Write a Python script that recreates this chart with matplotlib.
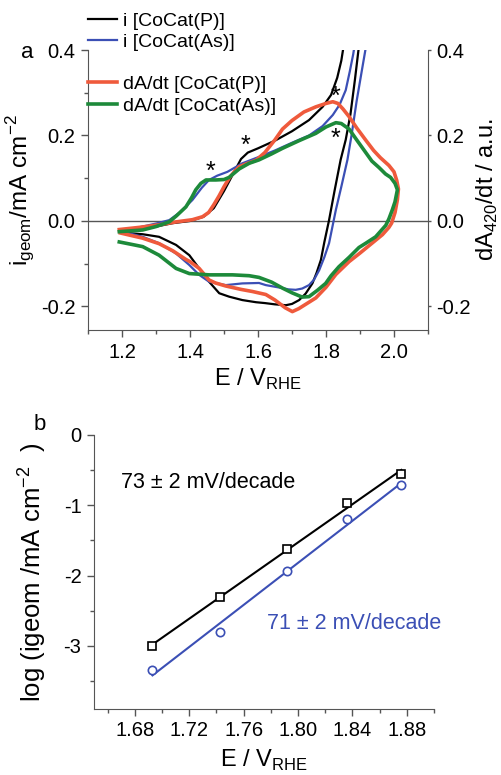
import numpy as np
import matplotlib
matplotlib.use("Agg")
import matplotlib.pyplot as plt
from matplotlib.ticker import MultipleLocator, FormatStrFormatter

plt.rcParams["font.family"] = ["Liberation Sans", "DejaVu Sans"]
plt.rcParams["mathtext.fontset"] = "custom"
plt.rcParams["mathtext.rm"] = "Liberation Sans"
plt.rcParams["axes.unicode_minus"] = False

# ---- panel a: CV currents ----
e_i_p = [1.195, 1.25, 1.30, 1.35, 1.40, 1.44, 1.47, 1.50, 1.53, 1.55, 1.57, 1.60,
         1.65, 1.70, 1.75, 1.79, 1.815, 1.833, 1.845, 1.852,
         1.897, 1.885, 1.872, 1.858, 1.843, 1.825, 1.809, 1.795, 1.785, 1.772, 1.760,
         1.74, 1.721, 1.70, 1.682, 1.65, 1.62, 1.594, 1.554, 1.515, 1.486, 1.456,
         1.427, 1.398, 1.359, 1.309, 1.261, 1.23, 1.20]
i_p = [-0.025, -0.022, -0.013, -0.005, 0.000, 0.010, 0.030, 0.070, 0.115, 0.145, 0.160, 0.170,
       0.188, 0.210, 0.236, 0.267, 0.295, 0.335, 0.375, 0.41,
       0.41, 0.33, 0.25, 0.19, 0.143, 0.07, 0.002, -0.05, -0.091, -0.122, -0.146,
       -0.170, -0.185, -0.194, -0.197, -0.195, -0.192, -0.190, -0.185, -0.177, -0.169, -0.142,
       -0.111, -0.080, -0.056, -0.037, -0.031, -0.029, -0.027]

e_i_as = [1.195, 1.25, 1.30, 1.339, 1.37, 1.407, 1.435, 1.456, 1.48, 1.51, 1.554, 1.603,
          1.65, 1.70, 1.75, 1.79, 1.82, 1.84, 1.858, 1.870, 1.880, 1.884,
          1.918, 1.905, 1.89, 1.875, 1.863, 1.845, 1.829, 1.809, 1.795, 1.780, 1.765,
          1.750, 1.730, 1.711, 1.690, 1.672, 1.623, 1.603, 1.554, 1.505, 1.456, 1.427,
          1.398, 1.359, 1.309, 1.261, 1.222, 1.195]
i_as = [-0.022, -0.015, -0.006, 0.002, 0.020, 0.049, 0.078, 0.096, 0.106, 0.115, 0.135, 0.150,
        0.165, 0.183, 0.200, 0.222, 0.248, 0.272, 0.306, 0.35, 0.39, 0.41,
        0.41, 0.35, 0.28, 0.20, 0.143, 0.08, 0.026, -0.052, -0.085, -0.115, -0.137,
        -0.150, -0.158, -0.161, -0.160, -0.157, -0.150, -0.145, -0.146, -0.150, -0.142, -0.126,
        -0.103, -0.076, -0.052, -0.037, -0.029, -0.022]

# ---- panel a: dA/dt loops ----
e_a_p = [1.192, 1.25, 1.309, 1.36, 1.407, 1.437, 1.455, 1.470, 1.485, 1.50, 1.515, 1.53,
         1.545, 1.57, 1.594, 1.62, 1.65, 1.672, 1.70, 1.735, 1.770, 1.80, 1.82, 1.835,
         1.85, 1.868, 1.89, 1.917, 1.94, 1.96, 1.985, 2.0, 2.008, 2.013, 2.01, 2.003,
         1.993, 1.985, 1.966, 1.946, 1.90, 1.868, 1.829, 1.80, 1.770, 1.74, 1.72, 1.701,
         1.68, 1.65, 1.623, 1.584, 1.55, 1.505, 1.475, 1.456, 1.427, 1.40, 1.388, 1.35,
         1.309, 1.26, 1.222, 1.195]
a_p = [-0.020, -0.015, -0.009, -0.002, 0.003, 0.010, 0.020, 0.038, 0.058, 0.080, 0.100, 0.115,
       0.127, 0.135, 0.142, 0.160, 0.190, 0.215, 0.235, 0.255, 0.267, 0.275, 0.279, 0.275,
       0.262, 0.244, 0.218, 0.189, 0.165, 0.148, 0.130, 0.115, 0.095, 0.075, 0.050, 0.020,
       -0.005, -0.015, -0.032, -0.045, -0.075, -0.095, -0.125, -0.155, -0.180, -0.195, -0.205, -0.212,
       -0.203, -0.185, -0.172, -0.165, -0.160, -0.152, -0.145, -0.138, -0.111, -0.095, -0.090, -0.070,
       -0.053, -0.040, -0.033, -0.028]

e_a_as = [1.192, 1.261, 1.30, 1.339, 1.36, 1.388, 1.405, 1.417, 1.432, 1.447, 1.476, 1.50,
          1.515, 1.530, 1.545, 1.574, 1.603, 1.64, 1.672, 1.721, 1.770, 1.80, 1.829, 1.845,
          1.868, 1.89, 1.917, 1.935, 1.956, 1.975, 1.99, 2.003, 2.010, 2.003, 1.995, 1.985,
          1.976, 1.946, 1.917, 1.897, 1.868, 1.838, 1.815, 1.799, 1.775, 1.750, 1.730, 1.70,
          1.672, 1.64, 1.603, 1.574, 1.525, 1.456, 1.398, 1.359, 1.309, 1.261, 1.23, 1.192]
a_as = [-0.025, -0.021, -0.013, -0.002, 0.012, 0.033, 0.055, 0.073, 0.088, 0.096, 0.096, 0.097,
        0.102, 0.112, 0.122, 0.135, 0.143, 0.157, 0.170, 0.188, 0.205, 0.220, 0.230, 0.228,
        0.215, 0.190, 0.160, 0.140, 0.125, 0.110, 0.102, 0.088, 0.073, 0.045, 0.026, 0.005,
        -0.010, -0.037, -0.052, -0.062, -0.085, -0.107, -0.128, -0.146, -0.162, -0.177, -0.178, -0.168,
        -0.157, -0.143, -0.132, -0.128, -0.126, -0.126, -0.123, -0.111, -0.080, -0.060, -0.055, -0.049]

star_e = [1.46, 1.563, 1.827, 1.827]
star_y = [0.131, 0.192, 0.306, 0.208]

# ---- panel b: Tafel points ----
e_tafel = [1.693, 1.743, 1.792, 1.836, 1.876]
log_i_p = [-3.00, -2.31, -1.62, -0.97, -0.56]
log_i_as = [-3.34, -2.81, -1.94, -1.20, -0.71]

BLACK = "#000000"
BLUE = "#3b4fb5"
RED = "#ef5a3c"
GREEN = "#1d8a3a"
SPINE = "#555555"

fig = plt.figure(figsize=(5.02, 7.75), dpi=100)
W, H = 502, 775
ax1 = fig.add_axes([88 / W, 1 - 330 / H, 340 / W, 280 / H])
ax2 = fig.add_axes([94 / W, 1 - 709 / H, 340 / W, 274 / H])

# --- panel a ---
ax1.axhline(0, color="#555555", lw=1.0, zorder=1)
l1, = ax1.plot(e_i_p, i_p, color=BLACK, lw=1.6, label="i [CoCat(P)]", zorder=2)
l2, = ax1.plot(e_i_as, i_as, color=BLUE, lw=1.6, label="i [CoCat(As)]", zorder=2)
l3, = ax1.plot(e_a_p, a_p, color=RED, lw=2.6, label="dA/dt [CoCat(P)]", zorder=3)
l4, = ax1.plot(e_a_as, a_as, color=GREEN, lw=2.6, label="dA/dt [CoCat(As)]", zorder=3.5)
for xs, ys in zip(star_e, star_y):
    ax1.annotate("*", (xs, ys), xytext=(0, -10), textcoords="offset points",
                 ha="center", va="baseline", fontsize=18)

ax1.set_xlim(1.1, 2.1)
ax1.set_ylim(-0.255, 0.4)
ax1.xaxis.set_major_locator(MultipleLocator(0.2))
ax1.xaxis.set_minor_locator(MultipleLocator(0.1))
ax1.yaxis.set_major_locator(MultipleLocator(0.2))
ax1.yaxis.set_minor_locator(MultipleLocator(0.1))
ax1.xaxis.set_major_formatter(FormatStrFormatter("%.1f"))
ax1.yaxis.set_major_formatter(FormatStrFormatter("%.1f"))
ax1.set_xlabel(r"E / V$_\mathregular{RHE}$", fontsize=17, labelpad=4)
ax1.set_ylabel(r"i$_\mathregular{geom}$/mA cm$^\mathregular{-2}$", fontsize=17.5, labelpad=3)

ax1r = ax1.twinx()
ax1r.set_ylim(ax1.get_ylim())
ax1r.yaxis.set_major_locator(MultipleLocator(0.2))
ax1r.yaxis.set_major_formatter(FormatStrFormatter("%.1f"))
ax1r.set_ylabel(r"dA$_\mathregular{420}$/dt / a.u.", fontsize=17, labelpad=3)
ax1r.tick_params(axis="y", length=2, width=1, color=SPINE, labelsize=14.5, pad=4)

leg_kw = dict(loc="center left", frameon=False, fontsize=14, bbox_transform=fig.transFigure,
              borderpad=0, borderaxespad=0, handlelength=1.5, handletextpad=0.3,
              labelspacing=0.2)
leg1 = ax1.legend(handles=[l1, l2], bbox_to_anchor=(88 / W, 1 - 31.5 / H), **leg_kw)
ax1.add_artist(leg1)
ax1.legend(handles=[l3, l4], bbox_to_anchor=(88 / W, 1 - 95 / H), **leg_kw)

# --- panel b ---
for ys, col, mk in [(log_i_p, BLACK, "s"), (log_i_as, BLUE, "o")]:
    k, b = np.polyfit(e_tafel, ys, 1)
    xf = np.array([min(e_tafel), max(e_tafel)])
    ax2.plot(xf, k * xf + b, color=col, lw=1.5, zorder=2)
    ax2.plot(e_tafel, ys, ls="none", marker=mk, ms=6, mfc="white", mec=col, mew=1.2, zorder=3)

ax2.text(1.670, -0.68, "73 ± 2 mV/decade", fontsize=15.5, color=BLACK, va="center", ha="left")
ax2.text(1.777, -2.69, "71 ± 2 mV/decade", fontsize=15.5, color=BLUE, va="center", ha="left")

ax2.set_xlim(1.65, 1.90)
ax2.set_ylim(-3.9, 0)
ax2.xaxis.set_major_locator(MultipleLocator(0.04))
ax2.xaxis.set_minor_locator(MultipleLocator(0.02))
ax2.yaxis.set_major_locator(MultipleLocator(1))
ax2.yaxis.set_minor_locator(MultipleLocator(0.5))
ax2.xaxis.set_major_formatter(FormatStrFormatter("%.2f"))
ax2.yaxis.set_major_formatter(FormatStrFormatter("%d"))
ax2.set_xlabel(r"E / V$_\mathregular{RHE}$", fontsize=17, labelpad=5)
ax2.set_ylabel(r"log (igeom /mA cm$^\mathregular{-2}$  )", fontsize=18.5, labelpad=11)

for ax in (ax1, ax2):
    ax.spines["top"].set_visible(False)
    ax.tick_params(which="major", direction="out", length=5, width=1, color=SPINE,
                   labelsize=14.5, pad=4)
    ax.tick_params(which="minor", direction="out", length=3, width=1, color=SPINE)
    for s in ("left", "bottom", "right"):
        ax.spines[s].set_color(SPINE)
ax2.spines["right"].set_visible(False)
ax1.spines["right"].set_visible(False)
ax1r.spines["top"].set_visible(False)
ax1r.spines["left"].set_visible(False)
ax1r.spines["bottom"].set_visible(False)
ax1r.spines["right"].set_color(SPINE)

fig.text(27 / W, 1 - 52 / H, "a", fontsize=16, ha="center", va="center")
fig.text(40 / W, 1 - 425 / H, "b", fontsize=16, ha="center", va="center")

fig.savefig("out.png", dpi=100)
